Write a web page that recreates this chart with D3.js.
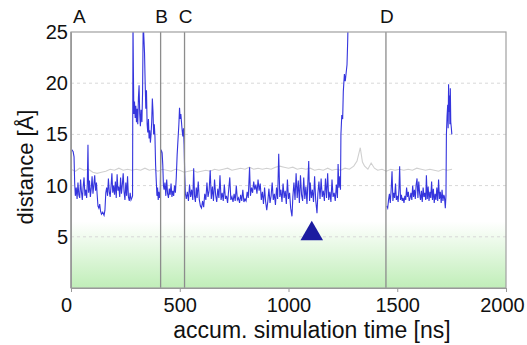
<!DOCTYPE html>
<html>
<head>
<meta charset="utf-8">
<script src="https://cdn.jsdelivr.net/npm/d3@7"></script>
<style>
  body { margin: 0; background: #fff; }
  svg { font-family: "Liberation Sans", Arial, sans-serif; }
</style>
</head>
<body>
<svg width="527" height="345"></svg>
<script>
// events (vertical lines) and their labels
var eventTimes = [0, 412, 522, 1448]
var eventLabels = ["A", "B", "C", "D"]

var xTicks = [0, 500, 1000, 1500, 2000]
var yTicks = [5, 10, 15, 20, 25]

// marker position (time, distance)
var marker = [1107, 5.3]

// blue distance trace, first run [ns, Å]
var blueRun1 = [
  [0,13.6],[4,13.5],[10,13.3],[14,12.8],[17,10.2],[20,9.0],[24,9.8],[28,8.7],[32,10.3],[36,9.1],
  [40,8.8],[44,10.6],[48,9.4],[52,8.6],[56,9.9],[60,10.8],[64,9.0],[68,9.6],[72,8.8],[75,10.2],
  [78,14.0],[81,9.3],[85,10.5],[89,8.9],[93,9.7],[97,10.9],[101,9.2],[105,10.1],[109,11.0],[113,9.5],
  [117,10.3],[120,9.2],[124,8.0],[128,7.8],[132,8.2],[136,7.5],[140,7.2],[146,7.4],[152,7.1],[156,7.6],
  [160,9.3],[164,9.8],[168,9.0],[172,10.7],[176,9.4],[180,8.9],[184,9.9],[188,11.2],[192,9.3],[196,10.0],
  [200,9.1],[204,10.4],[208,8.8],[212,11.1],[216,9.5],[220,9.9],[224,8.9],[228,10.8],[232,9.2],[236,10.1],
  [240,11.2],[244,9.4],[248,8.6],[252,10.3],[256,9.0],[260,10.9],[264,8.9],[268,8.5],[272,9.3],[276,8.6],
  [280,8.8],[283,9.0],[285,26.0],[287,21.0],[289,17.0],[292,18.2],[295,16.6],[298,17.8],[301,16.2],[304,17.5],
  [307,16.0],[310,18.6],[313,19.8],[316,17.0],[319,15.8],[322,17.4],[326,16.2],[329,19.0],[332,26.0],[335,24.5],
  [338,23.0],[341,20.0],[344,17.5],[347,19.3],[350,16.0],[353,15.2],[356,16.5],[359,14.6],[362,15.4],[365,14.2],
  [368,15.0],[371,16.2],[374,18.5],[377,17.2],[380,15.0],[383,16.0],[386,14.8],[389,12.0],[392,10.5],[395,9.0],
  [398,9.8],[401,8.6],[404,9.4],[407,8.8],[410,9.2],[413,13.5],[416,13.4],[419,13.2],[422,12.0],[425,10.0],
  [428,9.6],[432,10.3],[436,9.0],[440,10.6],[444,9.2],[448,8.8],[452,9.7],[456,9.1],[460,10.2],[464,8.9],
  [468,9.5],[472,9.0],[476,10.0],[480,9.3],[484,10.8],[488,13.0],[492,14.5],[496,16.0],[499,17.6],[502,16.5],
  [505,17.0],[508,16.2],[511,15.4],[514,14.8],[517,15.6],[520,14.0],[523,11.0],[526,9.2],
  [530,8.7],[535,9.4],[540,8.5],[545,10.1],[550,8.9],[555,9.6],[560,8.6],[564,11.7],[568,9.0],[572,8.4],
  [576,9.8],[580,8.8],[585,10.4],[590,8.6],[595,8.0],[600,7.8],[605,8.5],[610,7.9],[615,9.2],[620,8.6],
  [625,10.3],[630,8.9],[635,9.5],[640,11.5],[645,8.7],[650,9.9],[655,8.5],[660,10.6],[665,9.1],[670,8.4],
  [675,9.7],[680,8.8],[685,11.0],[690,8.6],[695,9.3],[700,8.5],[705,10.1],[710,8.7],[715,9.0],[720,8.3],
  [725,9.6],[730,10.8],[735,8.6],[740,8.9],[745,8.4],[750,9.2],[755,8.5],[760,10.0],[765,8.6],[770,8.8],
  [775,8.3],[780,9.1],[785,8.5],[790,9.6],[795,8.4],[800,8.7],[805,8.5],[810,9.4],[815,8.8],[821,11.8],
  [825,9.0],[830,9.8],[835,9.3],[840,10.4],[845,9.6],[850,10.1],[855,9.2],[860,10.6],[865,9.5],[870,10.2],
  [875,8.6],[880,9.4],[885,8.2],[890,9.8],[895,8.4],[900,7.6],[905,8.5],[910,9.7],[915,8.3],[920,9.0],
  [925,10.3],[930,8.6],[935,9.2],[940,8.1],[945,9.8],[950,8.7],[955,13.1],[960,8.9],[965,9.6],[970,8.4],
  [975,10.2],[980,8.8],[985,9.5],[990,8.2],[995,10.6],[1000,8.7],[1005,9.3],[1010,7.8],[1016,7.0],[1020,8.9],
  [1025,10.3],[1030,8.6],[1035,11.2],[1040,8.8],[1045,10.5],[1050,8.3],[1055,11.0],[1060,9.1],[1065,8.5],[1070,10.8],
  [1075,8.7],[1080,9.9],[1085,8.2],[1093,12.4],[1097,8.5],[1100,10.3],[1105,8.8],[1110,9.6],[1115,8.4],[1120,10.9],
  [1125,8.6],[1131,7.3],[1135,9.2],[1140,10.4],[1145,8.7],[1150,10.7],[1155,8.9],[1160,9.5],[1165,8.5],[1170,10.7],
  [1175,8.8],[1180,11.2],[1185,8.6],[1190,9.4],[1195,8.4],[1200,10.6],[1205,8.9],[1210,9.3],[1215,8.5],[1220,10.1],
  [1225,8.8],[1228,12.1],[1232,9.8],[1236,10.9],[1239,9.6],[1241,15.0],[1245,16.9],[1249,16.5],[1252,19.2],[1257,20.9],
  [1261,20.2],[1265,21.0],[1269,21.8],[1272,24.0],[1275,27.0]
]

// blue distance trace, second run after D
var blueRun2 = [
  [1452,8.0],[1456,7.8],[1460,8.6],[1464,9.2],[1468,8.3],[1472,9.6],[1476,11.4],[1480,8.5],[1484,9.3],[1488,8.8],
  [1492,10.2],[1496,8.6],[1500,9.0],[1504,8.4],[1508,9.7],[1511,11.9],[1515,8.6],[1519,9.1],[1523,8.5],[1527,8.8],
  [1531,8.3],[1535,9.0],[1539,8.6],[1543,9.8],[1547,8.9],[1551,9.4],[1555,8.5],[1559,8.8],[1563,9.3],[1567,8.6],
  [1571,10.0],[1575,8.9],[1579,9.6],[1583,8.7],[1587,10.1],[1591,10.7],[1595,8.8],[1599,10.4],[1603,9.2],[1607,8.6],
  [1611,9.5],[1615,8.4],[1619,9.8],[1623,8.9],[1627,9.3],[1631,8.6],[1634,11.0],[1638,8.7],[1642,9.9],[1646,8.5],
  [1650,9.4],[1654,8.8],[1658,10.4],[1662,8.6],[1666,9.7],[1670,8.3],[1674,9.2],[1678,8.6],[1682,9.8],[1686,8.5],
  [1690,10.6],[1694,8.7],[1698,9.4],[1702,8.3],[1706,9.6],[1710,8.5],[1714,9.1],[1717,8.9],[1721,7.8],[1724,9.0],
  [1726,15.0],[1729,16.8],[1732,17.9],[1734,15.6],[1736,19.9],[1738,17.2],[1740,18.8],[1742,16.0],[1744,19.5],[1746,16.2],
  [1748,15.8],[1751,15.0]
]

// grey reference trace
var greyRun = [
  [0,11.6],[20,11.4],[40,11.7],[60,11.5],[80,11.6],[100,11.3],[120,11.2],[140,11.3],[160,11.4],[180,11.6],
  [200,11.5],[220,11.7],[240,11.5],[260,11.6],[280,11.5],[300,11.6],[320,11.5],[340,11.7],[360,11.5],[380,11.6],
  [400,11.4],[420,11.6],[440,11.5],[460,11.4],[480,11.6],[500,11.5],[520,11.3],[540,11.4],[560,11.5],[580,11.3],
  [600,11.4],[620,11.5],[640,11.4],[660,11.6],[680,11.5],[700,11.6],[720,11.7],[740,11.5],[760,11.6],[780,11.7],
  [800,11.6],[820,11.8],[840,11.6],[860,11.7],[880,11.6],[900,11.7],[920,11.6],[940,11.8],[960,11.9],[980,11.8],
  [1000,11.7],[1020,11.8],[1040,11.6],[1060,11.7],[1080,11.6],[1100,11.7],[1120,11.5],[1140,11.6],[1160,11.5],[1180,11.7],
  [1200,11.5],[1220,11.6],[1240,11.5],[1260,11.7],[1280,11.6],[1300,11.9],[1315,12.4],[1330,13.7],[1340,12.3],[1350,11.9],
  [1365,11.6],[1380,12.2],[1395,11.7],[1410,11.5],[1430,11.6],[1450,11.4],[1470,11.6],[1490,11.5],[1510,11.6],[1530,11.5],
  [1550,11.6],[1570,11.5],[1590,11.7],[1610,11.6],[1630,11.5],[1650,11.6],[1670,11.5],[1690,11.4],[1710,11.6],[1730,11.5],
  [1752,11.6]
]

var width = 527
var height = 345
var margin = ({top: 32, right: 21, bottom: 57, left: 71})

var svg = d3.select("svg")

var x = d3.scaleLinear()
  .domain([0, 2000])
  .range([margin.left, width - margin.right])

var y = d3.scaleLinear()
  .domain([0, 25])
  .range([height - margin.bottom, margin.top])

// green band at the bottom
var defs = svg.append("defs")
var grad = defs.append("linearGradient")
  .attr("id", "green")
  .attr("x1", 0).attr("y1", 0).attr("x2", 0).attr("y2", 1)
grad.append("stop").attr("offset", "0%").attr("stop-color", "#ffffff")
grad.append("stop").attr("offset", "100%").attr("stop-color", "#c0eeb8")

defs.append("clipPath").attr("id", "plot")
  .append("rect")
  .attr("x", x(0)).attr("y", y(25))
  .attr("width", x(2000) - x(0)).attr("height", y(0) - y(25))

svg.append("rect")
  .attr("x", x(0)).attr("y", y(6.5))
  .attr("width", x(2000) - x(0)).attr("height", y(0) - y(6.5))
  .attr("fill", "url(#green)")

// dashed grid
svg.append("g")
  .selectAll("line")
  .data(yTicks.filter(d => d < 25))
  .join("line")
  .attr("x1", x(0)).attr("x2", x(2000))
  .attr("y1", d => y(d)).attr("y2", d => y(d))
  .attr("stroke", "#d8d8d8")
  .attr("stroke-dasharray", "3,3")

var plot = svg.append("g").attr("clip-path", "url(#plot)")

var line = d3.line()
  .x(d => x(d[0]))
  .y(d => y(d[1]))

plot.append("path")
  .datum(greyRun)
  .attr("d", line)
  .attr("fill", "none")
  .attr("stroke", "#d0d0d0")
  .attr("stroke-width", 1.1)

plot.selectAll(".blue")
  .data([blueRun1, blueRun2])
  .join("path")
  .attr("class", "blue")
  .attr("d", line)
  .attr("fill", "none")
  .attr("stroke", "#3535dd")
  .attr("stroke-width", 1.1)

// event lines
svg.append("g")
  .selectAll("line")
  .data(eventTimes)
  .join("line")
  .attr("x1", d => x(d)).attr("x2", d => x(d))
  .attr("y1", y(25)).attr("y2", y(0))
  .attr("stroke", "#8c8c8c")
  .attr("stroke-width", 1.3)

svg.append("g")
  .selectAll("text")
  .data(eventTimes)
  .join("text")
  .attr("x", (d, i) => i == 0 ? x(d) + 2 : x(d) + 1)
  .attr("y", 23)
  .attr("text-anchor", (d, i) => i == 0 ? "start" : "middle")
  .attr("font-size", 19)
  .attr("fill", "#111")
  .text((d, i) => eventLabels[i])

// frame
svg.append("rect")
  .attr("x", x(0)).attr("y", y(25))
  .attr("width", x(2000) - x(0)).attr("height", y(0) - y(25))
  .attr("fill", "none")
  .attr("stroke", "#a0a0a0")
  .attr("stroke-width", 1.2)

// marker
svg.append("path")
  .attr("d", d3.symbol(d3.symbolTriangle, 220))
  .attr("transform", `translate(${x(marker[0])},${y(marker[1])})`)
  .attr("fill", "#1b1ba0")

// axes
var xAxis = g => g
  .attr("transform", `translate(0,${y(0)})`)
  .call(d3.axisBottom(x).tickValues(xTicks).tickFormat(d3.format("d")).tickSize(4).tickPadding(6))
  .call(g => g.select(".domain").attr("stroke", "#999"))
  .call(g => g.selectAll(".tick line").attr("stroke", "#999"))
  .call(g => g.selectAll(".tick text").attr("font-size", 20).attr("fill", "#111")
    .attr("font-family", "Liberation Sans, Arial, sans-serif")
    .attr("dx", (d, i) => i == 0 ? -5 : i == xTicks.length - 1 ? -4 : 0))

var yAxis = g => g
  .attr("transform", `translate(${x(0)},0)`)
  .call(d3.axisLeft(y).tickValues(yTicks).tickSize(0).tickPadding(3))
  .call(g => g.select(".domain").attr("stroke", "#999"))
  .call(g => g.selectAll(".tick text").attr("font-size", 20).attr("fill", "#111")
    .attr("font-family", "Liberation Sans, Arial, sans-serif"))

svg.append("g").call(xAxis)
svg.append("g").call(yAxis)

svg.append("text")
  .attr("x", 312)
  .attr("y", 338)
  .attr("text-anchor", "middle")
  .attr("font-size", 23)
  .attr("fill", "#111")
  .text("accum. simulation time [ns]")

svg.append("text")
  .attr("transform", "translate(33,167) rotate(-90)")
  .attr("text-anchor", "middle")
  .attr("font-size", 22)
  .attr("fill", "#111")
  .text("distance [Å]")
</script>
</body>
</html>
